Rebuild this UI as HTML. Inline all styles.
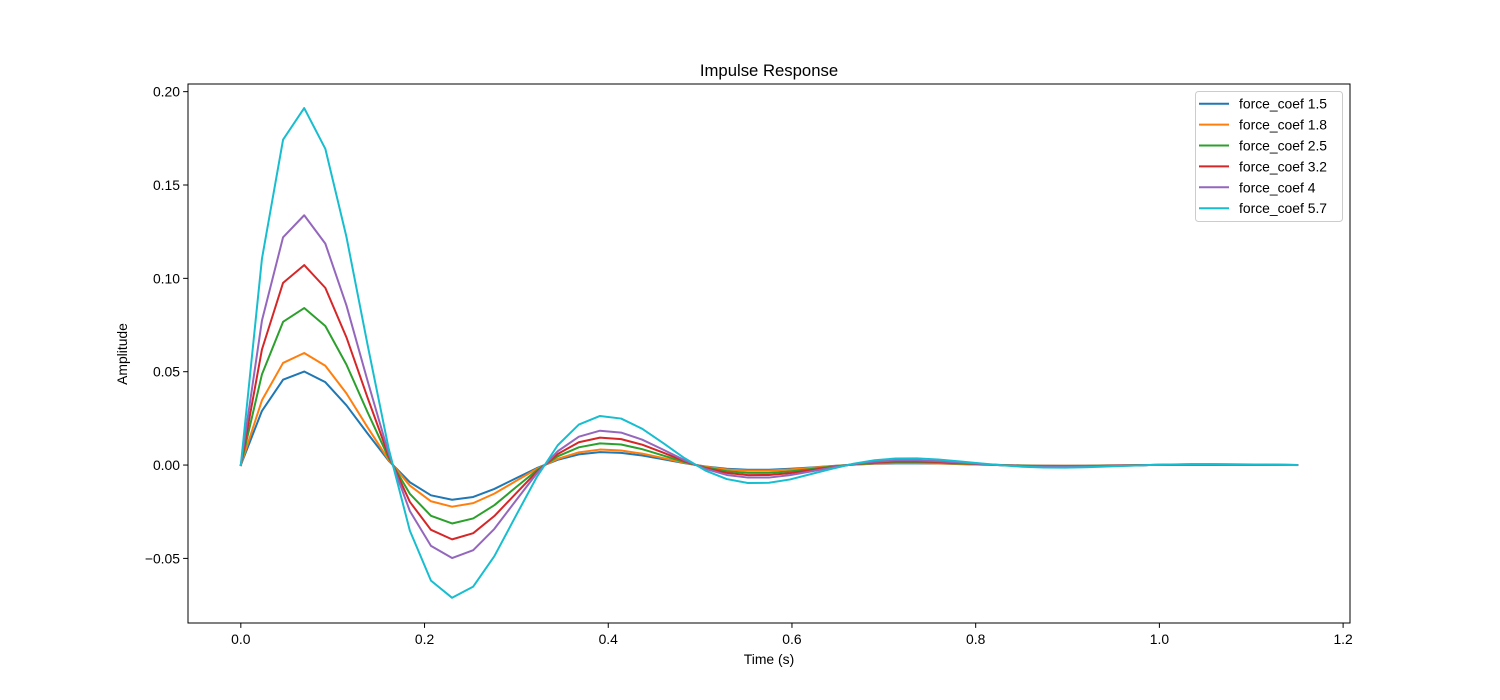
<!DOCTYPE html>
<html><head><meta charset="utf-8"><style>
html,body{margin:0;padding:0;background:#fff;}
svg{display:block;font-family:"Liberation Sans","DejaVu Sans",sans-serif;}
</style></head><body>
<svg id="chart" width="1500" height="700" viewBox="0 0 1500 700" xmlns="http://www.w3.org/2000/svg">
<rect x="0" y="0" width="1500" height="700" fill="#fff"/>
<g id="marks"></g>
<rect x="188" y="84" width="1162" height="539" fill="none" stroke="#000" stroke-width="1"/>
<g id="xticks"></g>
<g id="yticks"></g>
<text x="769" y="76" text-anchor="middle" font-size="16.7">Impulse Response</text>
<text x="769" y="664" text-anchor="middle" font-size="13.9">Time (s)</text>
<text x="127" y="354" text-anchor="middle" font-size="13.9" transform="rotate(-90 127 354)">Amplitude</text>
<g id="legend"></g>
</svg>
<script>
const seriesNames = ["force_coef 1.5","force_coef 1.8","force_coef 2.5","force_coef 3.2","force_coef 4","force_coef 5.7"];
const seriesColors = ["#1f77b4","#ff7f0e","#2ca02c","#d62728","#9467bd","#17becf"];
const timeStep = 0.023;
const s15 = [0,.0290,.0457,.0501,.0444,.0320,.0169,.0023,-.0092,-.0162,-.0186,-.0171,-.0128,-.0072,-.0017,.0028,.0057,.0069,.0065,.0051,.0031,.0010,-.0008,-.0020,-.0025,-.0025,-.0020,-.0013,-.0005,.0002,.0007,.0009,.0009,.0008,.0005,.0002,0,-.0002,-.0003,-.0004,-.0003,-.0002,-.0001,0,.0001,.0001,.0001,.0001,.0001,.0001,0];
const s18 = [0,.0347,.0547,.0600,.0532,.0384,.0202,.0027,-.0110,-.0194,-.0223,-.0204,-.0153,-.0087,-.0021,.0033,.0068,.0083,.0078,.0061,.0037,.0012,-.0009,-.0024,-.0030,-.0030,-.0024,-.0015,-.0006,.0002,.0008,.0011,.0011,.0009,.0006,.0003,0,-.0003,-.0004,-.0004,-.0004,-.0003,-.0001,0,.0001,.0002,.0002,.0001,.0001,.0001,0];
const s25 = [0,.0486,.0767,.0841,.0745,.0538,.0283,.0038,-.0154,-.0272,-.0313,-.0286,-.0215,-.0121,-.0029,.0047,.0095,.0116,.0110,.0085,.0051,.0016,-.0013,-.0033,-.0042,-.0042,-.0034,-.0021,-.0008,.0003,.0011,.0015,.0016,.0013,.0009,.0004,0,-.0004,-.0006,-.0006,-.0005,-.0004,-.0002,0,.0001,.0002,.0002,.0002,.0001,.0001,0];
const s32 = [0,.0619,.0976,.1071,.0949,.0684,.0361,.0049,-.0197,-.0347,-.0398,-.0365,-.0273,-.0155,-.0037,.0059,.0122,.0147,.0139,.0109,.0066,.0021,-.0017,-.0042,-.0054,-.0053,-.0043,-.0027,-.0011,.0004,.0015,.0020,.0020,.0017,.0011,.0005,-.0001,-.0005,-.0007,-.0008,-.0007,-.0004,-.0002,0,.0002,.0003,.0003,.0002,.0002,.0001,0];
const s40 = [0,.0774,.1220,.1338,.1186,.0855,.0451,.0061,-.0246,-.0433,-.0498,-.0456,-.0342,-.0193,-.0046,.0074,.0152,.0184,.0174,.0136,.0082,.0026,-.0021,-.0053,-.0067,-.0067,-.0054,-.0034,-.0013,.0005,.0018,.0025,.0025,.0021,.0014,.0006,-.0001,-.0006,-.0009,-.0010,-.0008,-.0006,-.0003,0,.0002,.0004,.0004,.0003,.0002,.0001,0];
const s57 = [0,.1105,.1743,.1912,.1694,.1222,.0644,.0087,-.0351,-.0619,-.0711,-.0651,-.0488,-.0276,-.0066,.0106,.0217,.0263,.0249,.0194,.0117,.0037,-.0030,-.0075,-.0096,-.0095,-.0077,-.0048,-.0019,.0007,.0026,.0035,.0036,.0030,.0020,.0009,-.0001,-.0009,-.0013,-.0014,-.0012,-.0008,-.0004,0,.0003,.0005,.0005,.0004,.0003,.0002,0];
const xTicks = [0,0.2,0.4,0.6,0.8,1.0,1.2];
const xTickLabels = ["0.0","0.2","0.4","0.6","0.8","1.0","1.2"];
const yTicks = [-0.05,0,0.05,0.10,0.15,0.20];
const yTickLabels = ["\u22120.05","0.00","0.05","0.10","0.15","0.20"];

const NS = "http://www.w3.org/2000/svg";
const X0 = 188, X1 = 1350, Y0 = 84, Y1 = 623;
const xMin = -0.0575, xMax = 1.2075, yMin = -0.0846, yMax = 0.2041;
function xs(v){ return X0 + (v - xMin) / (xMax - xMin) * (X1 - X0); }
function ys(v){ return Y1 - (v - yMin) / (yMax - yMin) * (Y1 - Y0); }
function mk(tag, attrs){ const e = document.createElementNS(NS, tag); for (const k in attrs) e.setAttribute(k, attrs[k]); return e; }

const allSeries = [s15, s18, s25, s32, s40, s57];
const marks = document.getElementById('marks');
allSeries.forEach((vals, si) => {
  const pts = vals.map((v, i) => xs(i * timeStep).toFixed(2) + "," + ys(v).toFixed(2)).join(" ");
  const pl = mk('polyline', {points: pts, fill: 'none', stroke: seriesColors[si], 'stroke-width': 2, 'stroke-linejoin': 'round', 'stroke-linecap': 'square'});
  
  
  marks.appendChild(pl);
});

const xg = document.getElementById('xticks');
xTicks.forEach((t, i) => {
  const x = xs(t);
  const ln = mk('line', {x1: x, x2: x, y1: Y1, y2: Y1 + 4.9, stroke: '#000', 'stroke-width': 1});
  
  
  xg.appendChild(ln);
  const tx = mk('text', {x: x, y: Y1 + 21, 'text-anchor': 'middle', 'font-size': 13.9});
  tx.textContent = xTickLabels[i];
  
  
  xg.appendChild(tx);
});
const yg = document.getElementById('yticks');
yTicks.forEach((t, i) => {
  const y = ys(t);
  const ln = mk('line', {x1: X0 - 4.9, x2: X0, y1: y, y2: y, stroke: '#000', 'stroke-width': 1});
  
  
  yg.appendChild(ln);
  const tx = mk('text', {x: X0 - 8, y: y + 5, 'text-anchor': 'end', 'font-size': 13.9});
  tx.textContent = yTickLabels[i];
  
  
  yg.appendChild(tx);
});

const lg = document.getElementById('legend');
const box = mk('rect', {x: 1195.5, y: 91.5, width: 147, height: 130, rx: 3, fill: '#fff', 'fill-opacity': 0.8, stroke: '#ccc', 'stroke-width': 1});


lg.appendChild(box);
seriesNames.forEach((n, i) => {
  const cy = 103.7 + i * 20.9;
  const ln = mk('line', {x1: 1199, x2: 1229, y1: cy, y2: cy, stroke: seriesColors[i], 'stroke-width': 2});
  
  
  lg.appendChild(ln);
  const tx = mk('text', {x: 1239, y: cy + 5, 'font-size': 13.9});
  tx.textContent = n;
  
  
  lg.appendChild(tx);
});
</script>
</body></html>
